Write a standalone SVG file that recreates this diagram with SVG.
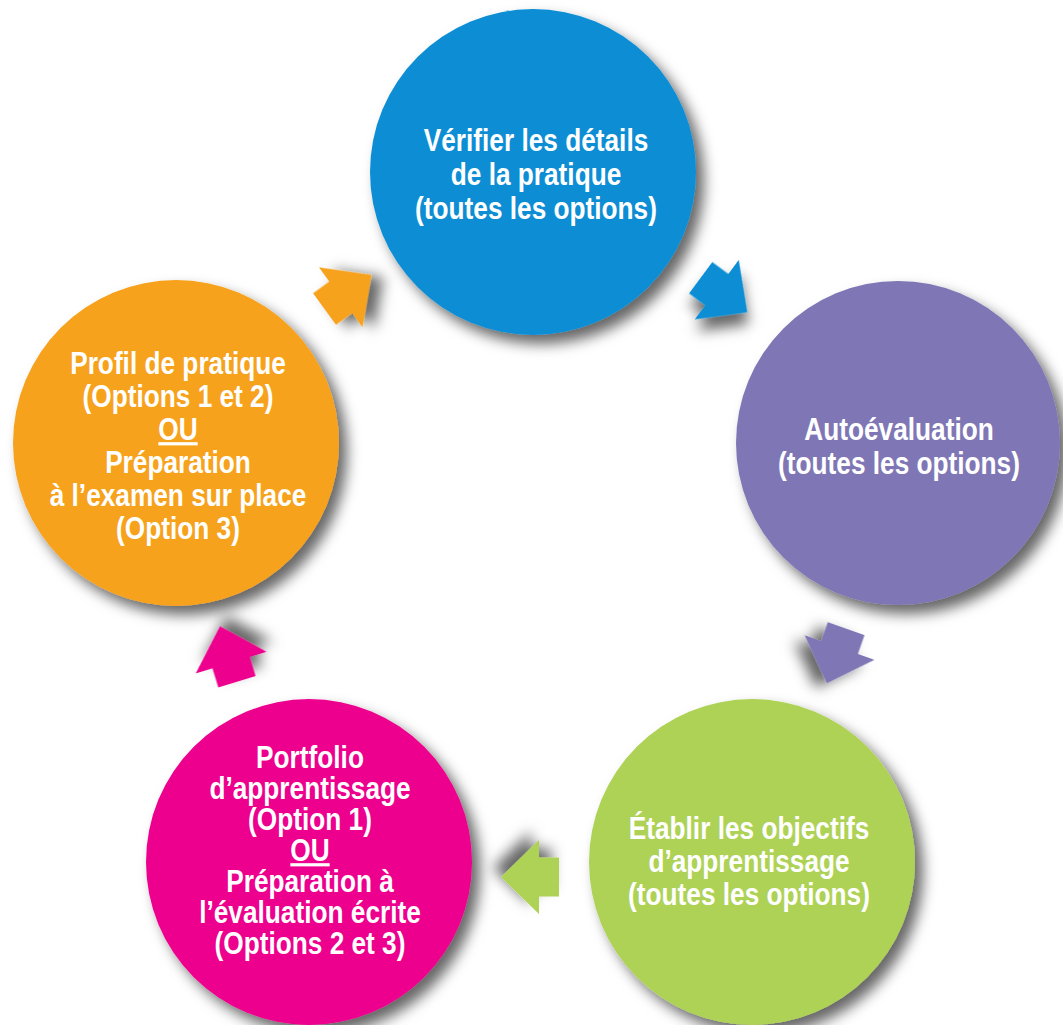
<svg xmlns="http://www.w3.org/2000/svg" width="1063" height="1025" viewBox="0 0 1063 1025">
<style>
.lbl{font-family:"Liberation Sans",Arial,sans-serif;font-weight:bold;font-size:32px;fill:#ffffff;text-anchor:middle}
.node circle{filter:url(#sh)}
.conn use{filter:url(#sh)}
</style>
<defs>
<filter id="sh" x="-30%" y="-30%" width="170%" height="170%">
<feDropShadow dx="8" dy="9" stdDeviation="7" flood-color="#000" flood-opacity="0.6"/>
</filter>
<path id="arr" d="M-29,-19.5 L-9,-19.5 L-9,-37 L29,0 L-9,37 L-9,19.5 L-29,19.5 Z"/>
</defs>
<rect width="1063" height="1025" fill="#ffffff"/>
<g id="connectors" class="conn">
<use href="#arr" fill="#0C8DD4" transform="translate(724,295) rotate(36.5)"/>
<use href="#arr" fill="#7F77B5" transform="translate(836.5,656) rotate(109.4)"/>
<use href="#arr" fill="#AED256" transform="translate(530,877) rotate(180)"/>
<use href="#arr" fill="#EC068D" transform="translate(228.5,654) rotate(-107)"/>
<use href="#arr" fill="#F7A21E" transform="translate(348,292) rotate(-36)"/>
</g>
<g id="node-verifier" class="node">
<circle cx="533" cy="172" r="163" fill="#0C8DD4"/>
<g transform="matrix(0.82,0,0,1,536,0)">
<text class="lbl" x="0" y="151">Vérifier les détails</text>
<text class="lbl" x="0" y="185">de la pratique</text>
<text class="lbl" x="0" y="219">(toutes les options)</text>
</g>
</g>
<g id="node-autoevaluation" class="node">
<circle cx="898" cy="443" r="162" fill="#7F77B5"/>
<g transform="matrix(0.82,0,0,1,899,0)">
<text class="lbl" x="0" y="440">Autoévaluation</text>
<text class="lbl" x="0" y="474">(toutes les options)</text>
</g>
</g>
<g id="node-objectifs" class="node">
<circle cx="752" cy="862" r="163" fill="#AED256"/>
<g transform="matrix(0.82,0,0,1,749,0)">
<text class="lbl" x="0" y="839">Établir les objectifs</text>
<text class="lbl" x="0" y="872">d’apprentissage</text>
<text class="lbl" x="0" y="905">(toutes les options)</text>
</g>
</g>
<g id="node-portfolio" class="node">
<circle cx="309" cy="862" r="163" fill="#EC068D"/>
<g transform="matrix(0.82,0,0,1,310,0)">
<text class="lbl" x="0" y="768">Portfolio</text>
<text class="lbl" x="0" y="799">d’apprentissage</text>
<text class="lbl" x="0" y="830">(Option 1)</text>
<text class="lbl" x="0" y="861" text-decoration="underline">OU</text>
<text class="lbl" x="0" y="892">Préparation à</text>
<text class="lbl" x="0" y="923">l’évaluation écrite</text>
<text class="lbl" x="0" y="954">(Options 2 et 3)</text>
</g>
</g>
<g id="node-profil" class="node">
<circle cx="176" cy="443" r="163" fill="#F7A21E"/>
<g transform="matrix(0.82,0,0,1,178,0)">
<text class="lbl" x="0" y="374">Profil de pratique</text>
<text class="lbl" x="0" y="407">(Options 1 et 2)</text>
<text class="lbl" x="0" y="440" text-decoration="underline">OU</text>
<text class="lbl" x="0" y="473">Préparation</text>
<text class="lbl" x="0" y="506">à l’examen sur place</text>
<text class="lbl" x="0" y="539">(Option 3)</text>
</g>
</g>
</svg>
